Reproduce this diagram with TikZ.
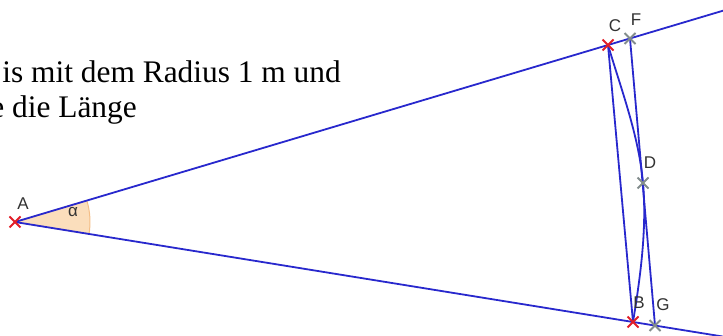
\documentclass[tikz,border=0pt]{standalone}
\usepackage{fontspec}
\setmainfont{Liberation Serif}
\newfontfamily\labelfont{Liberation Sans}
\usetikzlibrary{shapes.misc,calc}
\definecolor{lineblue}{RGB}{40,40,205}
\definecolor{markred}{RGB}{225,30,40}
\definecolor{markgray}{RGB}{130,140,140}
\definecolor{labgray}{RGB}{50,50,50}
\definecolor{sectorfill}{RGB}{251,222,188}
\definecolor{sectoredge}{RGB}{244,190,135}
\tikzset{
  geoline/.style={draw=lineblue, line width=1.8pt},
  redmark/.style={draw=markred, cross out, minimum size=9pt, inner sep=0pt, line width=2pt},
  graymark/.style={draw=markgray, cross out, minimum size=9pt, inner sep=0pt, line width=2pt},
  ptlabel/.style={text=labgray, font=\labelfont\fontsize{17}{17}\selectfont, inner sep=0pt},
  bodytext/.style={font=\fontsize{31.4}{34}\selectfont, inner sep=0pt, text=black}
}
\begin{document}
\begin{tikzpicture}[x=1pt,y=-1pt]
\useasboundingbox (0,0) rectangle (723,336);
% points
\coordinate (A) at (15,222);
\coordinate (C) at (608,45);
\coordinate (F) at (630,38.5);
\coordinate (D) at (643,183);
\coordinate (B) at (633,322);
\coordinate (G) at (655,325.5);
\coordinate (Uend) at (723,10.7);
\coordinate (Lend) at (725,336.9);
% angle sector
\fill[sectorfill, draw=sectoredge, line width=1pt] (A) -- ($(A)+(-16.6:75)$) arc[start angle=-16.6, end angle=9.2, radius=75] -- cycle;
% text
\node[bodytext, anchor=base east] (t1) at (341,82.5) {is mit dem Radius 1 m und};
\node[bodytext, anchor=base east] (t2) at (137,118) {e die Länge};
% rays
\draw[geoline] (A) -- (Uend);
\draw[geoline] (A) -- (Lend);
% chord and tangent
\draw[geoline] (C) -- (B);
\draw[geoline] (F) -- (G);
% arc
\draw[geoline] (C) .. controls (621.4,90) and (638.9,136.2) .. (D)
                   .. controls (647,228.8) and (640.4,276.6) .. (B);
% markers
\node[redmark] (mA) at (A) {};
\node[redmark] (mC) at (C) {};
\node[redmark] (mB) at (B) {};
\node[graymark] (mF) at (F) {};
\node[graymark] (mD) at (D) {};
\node[graymark] (mG) at (G) {};
% labels
\node[ptlabel] (lA) at (23,204) {A};
\node[ptlabel] (lalpha) at (73,212) {α};
\node[ptlabel] (lC) at (615,26) {C};
\node[ptlabel] (lF) at (636,20) {F};
\node[ptlabel] (lD) at (650,163) {D};
\node[ptlabel] (lB) at (639,303) {B};
\node[ptlabel] (lG) at (663,305) {G};
\end{tikzpicture}
\end{document}
